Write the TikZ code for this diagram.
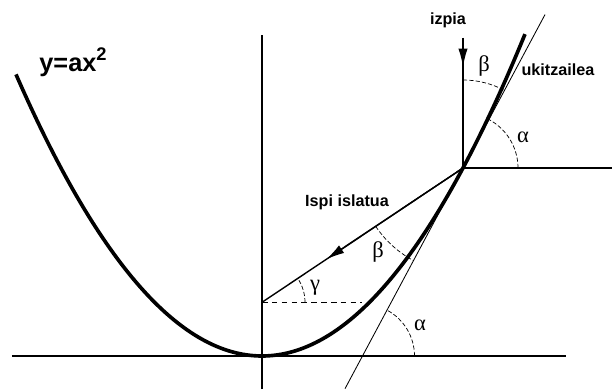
\documentclass[tikz,border=0pt]{standalone}
\usepackage{amsmath,amssymb}
\usepackage{fontspec}
\setsansfont{Liberation Sans}
\newfontfamily\greekfont{Liberation Serif}
\usetikzlibrary{calc,arrows.meta}

\begin{document}
\begin{tikzpicture}[x=0.025cm, y=0.025cm,
    curve/.style={line width=2.6pt, black},
    axis/.style={line width=1.2pt, black},
    ray/.style={line width=1pt, black},
    tangent/.style={line width=0.6pt, black},
    anglearc/.style={line width=0.5pt, black, dash pattern=on 3pt off 1.5pt},
    lbl/.style={font=\sffamily\bfseries\fontsize{11.5}{13}\selectfont},
    greek/.style={font=\greekfont\fontsize{16}{18}\selectfont},
    >={Latex[length=13pt, width=6.5pt]}
  ]
    \useasboundingbox (-262,-33) rectangle (350,356);

    % Axes
    \coordinate (xl) at (-250,0);
    \coordinate (xr) at (304,0);
    \coordinate (yb) at (0,-33);
    \coordinate (yt) at (0,321);
    \draw[axis] (xl) -- (xr);
    \draw[axis] (yb) -- (yt);

    % Parabola y=ax^2
    \draw[curve] plot[domain=-246:263, samples=120] (\x, {46.533*(\x/100)^2});
    \node (eq) at (-189,294) {\sffamily\bfseries\fontsize{18}{20}\selectfont y=ax\raisebox{0.45em}{\fontsize{13}{14}\selectfont 2}};

    % Point of reflection, focus, tangent
    \coordinate (P) at (201,188);
    \coordinate (F) at (0,53.7);
    \coordinate (T) at (100.5,0);
    \coordinate (tanlo) at (83,-32.7);
    \coordinate (tanhi) at (283,341.4);
    \draw[tangent] (tanlo) -- (tanhi);
    \coordinate (hr) at (350,188);
    \draw[ray] (P) -- (hr);
    \node[lbl] (uki) at (296,286) {ukitzailea};

    % Incoming ray
    \coordinate (src) at (201,318);
    \coordinate (srctip) at (201,289);
    \draw[ray] (src) -- (P);
    \draw[ray,->] (src) -- (srctip);
    \node[lbl] (izpia) at (186,336) {izpia};

    % Reflected ray
    \draw[ray] (P) -- (F);
    \draw[ray,->] (P) -- ($(P)!0.68!(F)$);
    \node[lbl] (islatua) at (85,154) {Ispi islatua};
    \coordinate (dr) at (100,53.7);
    \draw[line width=1.1pt, dash pattern=on 4pt off 3pt] (F) -- (dr);

    % Angles
    \draw[anglearc] ([shift={(0:52)}]T) arc[start angle=0, end angle=61.87, radius=52];
    \node[greek] (alow) at (158,31) {α};
    \draw[anglearc] ([shift={(0:55)}]P) arc[start angle=0, end angle=61.87, radius=55];
    \node[greek] (aup) at (261,219) {α};
    \draw[anglearc] ([shift={(90:88)}]P) arc[start angle=90, end angle=61.87, radius=88];
    \node[greek] (bup) at (222,290) {β};
    \draw[anglearc] ([shift={(213.75:105)}]P) arc[start angle=213.75, end angle=241.87, radius=105];
    \node[greek] (blow) at (116,104) {β};
    \draw[anglearc] ([shift={(0:43)}]F) arc[start angle=0, end angle=33.75, radius=43];
    \node[greek] (gam) at (53,68) {γ};
  \end{tikzpicture}
\end{document}
